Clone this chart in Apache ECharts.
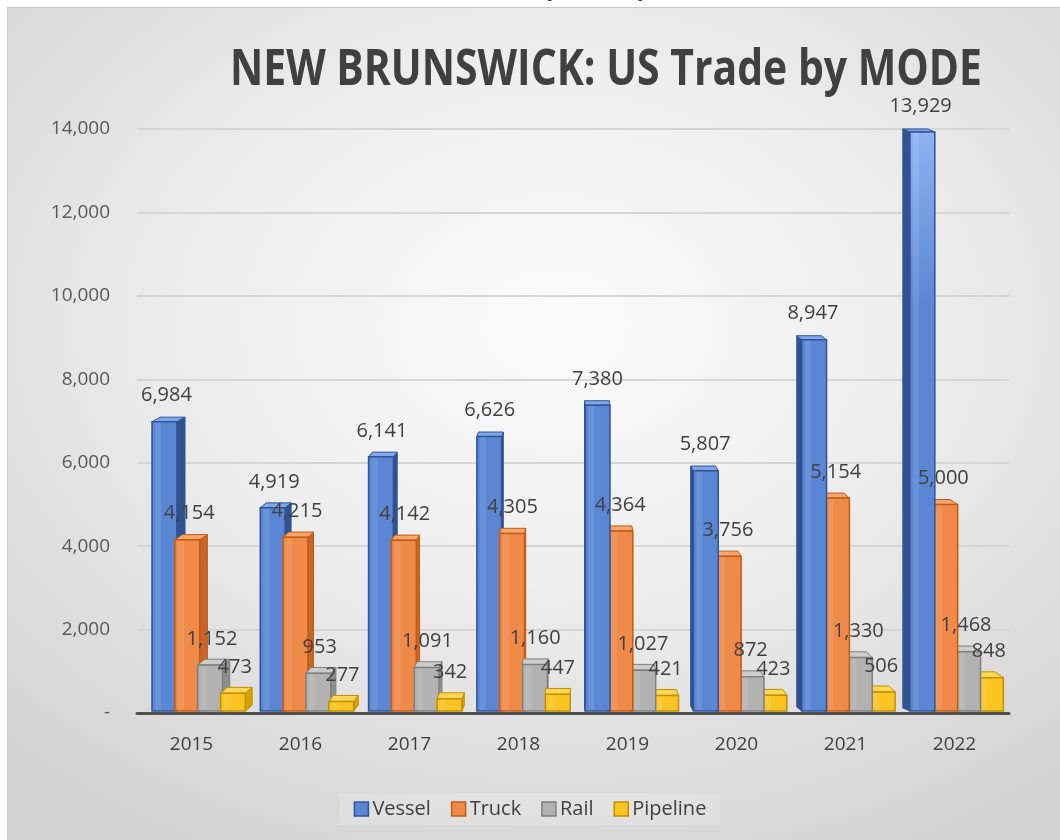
<!DOCTYPE html>
<html>
<head>
<meta charset="utf-8">
<script src="https://cdn.jsdelivr.net/npm/echarts@6/dist/echarts.min.js"></script>
<style>
  html, body { margin: 0; padding: 0; background: #ffffff; }
  #bg { position: absolute; left: 7px; top: 7px; width: 1053px; height: 833px;
        border-top: 1px solid #c8c8c8; border-left: 1px solid #c8c8c8; box-sizing: border-box;
        background: radial-gradient(ellipse 75% 70% at 52% 38%, #fbfbfb 0%, #eeeeee 45%, #d3d3d3 100%); }
  #chart { position: absolute; left: 0; top: 0; width: 1060px; height: 840px; }
</style>
</head>
<body>
<div id="bg"></div>
<div id="chart"></div>
<script>
// ---- data ----
const categories = ['2015', '2016', '2017', '2018', '2019', '2020', '2021', '2022'];
const vessel   = [6984, 4919, 6141, 6626, 7380, 5807, 8947, 13929];
const truck    = [4154, 4215, 4142, 4305, 4364, 3756, 5154, 5000];
const rail     = [1152, 953, 1091, 1160, 1027, 872, 1330, 1468];
const pipeline = [473, 277, 342, 447, 421, 423, 506, 848];
const seriesNames = ['Vessel', 'Truck', 'Rail', 'Pipeline'];
const yMin = 0, yMax = 14000, yInterval = 2000;
const titleText = 'NEW BRUNSWICK: US Trade by MODE';
const clippedText = '(US$M)';

// ---- styles ----
const palettes = [
  { front: '#5a86d4', light: '#6e97de', border: '#2f5597', side: '#30528f', top: '#7fa6e8', tall: '#8fb3f4' },
  { front: '#ef8a48', light: '#f39a5e', border: '#c55a11', side: '#c7652a', top: '#f5a772', tall: '#f39a5e' },
  { front: '#b2b2b2', light: '#bdbdbd', border: '#7f7f7f', side: '#8e8e8e', top: '#cdcdcd', tall: '#bdbdbd' },
  { front: '#fbc422', light: '#fdd04a', border: '#bf9000', side: '#d6a300', top: '#ffd658', tall: '#fdd04a' }
];
const valuesList = [vessel, truck, rail, pipeline];

function fmt(v) { return v.toLocaleString('en-US'); }

const chart = echarts.init(document.getElementById('chart'), null, { renderer: 'canvas' });

function makeRender(i, pal) {
  return function (params, api) {
    const idx = api.value(0), val = api.value(1);
    const base = api.coord([idx, 0]);
    const top = api.coord([idx, val]);
    const yTopAxis = api.coord([idx, yMax])[1];
    const band = api.size([1, 0])[0];
    const first = api.coord([0, 0])[0];
    const last = api.coord([categories.length - 1, 0])[0];
    const gridCenter = (first + last) / 2 - 4;
    const catStart = base[0] - band / 2;
    const w = band * 0.228;
    let x0 = catStart + band * (0.113 + 0.211 * i);
    const dx = (gridCenter - (x0 + w / 2)) * 0.02;
    x0 += dx * 0.33;
    const yTop = top[1];
    const yBase = base[1] - 2;
    const dy = 3 + 3 * (yTop - yTopAxis) / (base[1] - yTopAxis);
    const zBase = dx >= 0 ? i * 10 : (3 - i) * 10;
    let sidePts;
    if (dx >= 0) {
      sidePts = [[x0 + w, yTop], [x0 + w + dx, yTop - dy], [x0 + w + dx, yBase - dy], [x0 + w, yBase]];
    } else {
      sidePts = [[x0, yTop], [x0 + dx, yTop - dy], [x0 + dx, yBase - dy], [x0, yBase]];
    }
    const topPts = [[x0, yTop], [x0 + dx, yTop - dy], [x0 + w + dx, yTop - dy], [x0 + w, yTop]];
    const frontFill = {
      type: 'linear', x: 0, y: yTopAxis, x2: 0, y2: base[1], global: true,
      colorStops: [{ offset: 0, color: pal.tall }, { offset: 0.3, color: pal.front }, { offset: 1, color: pal.front }]
    };
    return {
      type: 'group',
      children: [
        { type: 'polygon', z2: zBase, shape: { points: sidePts },
          style: { fill: pal.side, stroke: pal.border, lineWidth: 1 } },
        { type: 'polygon', z2: zBase + 1, shape: { points: topPts },
          style: { fill: pal.top, stroke: pal.border, lineWidth: 1 } },
        { type: 'rect', z2: zBase + 2, shape: { x: x0, y: yTop, width: w, height: yBase - yTop },
          style: { fill: frontFill, stroke: pal.border, lineWidth: 1.5 } },
        { type: 'rect', z2: zBase + 3, shape: { x: x0 + 3, y: yTop + 1, width: 6, height: Math.max(0, yBase - yTop - 2) },
          style: { fill: 'rgba(255,255,255,0.10)' } },
        { type: 'text', z2: 200,
          x: x0 + w / 2 + dx * 0.25, y: yTop - 26,
          style: { text: fmt(val), fill: '#404040', font: '20px "Open Sans"', align: 'center', verticalAlign: 'middle' } }
      ]
    };
  };
}

// measure title to scale it to Calibri-like width
const ctx = document.createElement('canvas').getContext('2d');
ctx.font = 'bold 50px "Open Sans"';
const titleW = ctx.measureText(titleText).width || 900;
const titleScale = 752 / titleW;

const series = seriesNames.map(function (name, i) {
  return {
    name: name,
    type: 'custom',
    renderItem: makeRender(i, palettes[i]),
    itemStyle: { color: palettes[i].front, borderColor: palettes[i].border },
    encode: { x: 0, y: 1 },
    data: valuesList[i].map(function (v, j) { return [j, v]; }),
    clip: false
  };
});

const option = {
  animation: false,
  backgroundColor: 'transparent',
  textStyle: { fontFamily: '"Open Sans"' },
  grid: { left: 137, right: 51, top: 129, bottom: 127, containLabel: false },
  xAxis: {
    type: 'category',
    data: categories,
    boundaryGap: true,
    axisTick: { show: false },
    axisLine: { show: true, lineStyle: { color: '#505050', width: 3 } },
    axisLabel: { color: '#404040', fontSize: 19, margin: 22, fontFamily: '"Open Sans"' }
  },
  yAxis: {
    type: 'value',
    min: yMin, max: yMax, interval: yInterval,
    axisLine: { show: false },
    axisTick: { show: false },
    splitLine: { show: true, lineStyle: { color: '#d6d6d6', width: 2 } },
    axisLabel: {
      color: '#595959', fontSize: 19, margin: 27, fontFamily: '"Open Sans"',
      formatter: function (v) { return v === 0 ? '-' : fmt(v); }
    }
  },
  legend: {
    left: 'center',
    top: 793,
    icon: 'rect',
    itemWidth: 14,
    itemHeight: 14,
    itemGap: 20,
    padding: [6, 14, 6, 14],
    backgroundColor: 'rgba(255,255,255,0.18)',
    textStyle: { color: '#404040', fontSize: 20, padding: [0, 0, 0, -1], fontFamily: '"Open Sans"' },
    data: seriesNames.map(function (n, i) {
      return { name: n, itemStyle: { color: palettes[i].front, borderColor: palettes[i].border, borderWidth: 1.5 } };
    })
  },
  graphic: [
    { type: 'text', x: 606, y: 71, scaleX: titleScale, scaleY: 1, originX: 0, originY: 0,
      style: { text: titleText, fill: '#404040', font: 'bold 50px "Open Sans"', align: 'center', verticalAlign: 'middle' } },
    { type: 'text', x: 595, y: -13,
      style: { text: clippedText, fill: '#000000', font: 'bold 30px "Open Sans"', align: 'center', verticalAlign: 'middle' } }
  ],
  series: series
};

chart.setOption(option);
</script>
</body>
</html>
